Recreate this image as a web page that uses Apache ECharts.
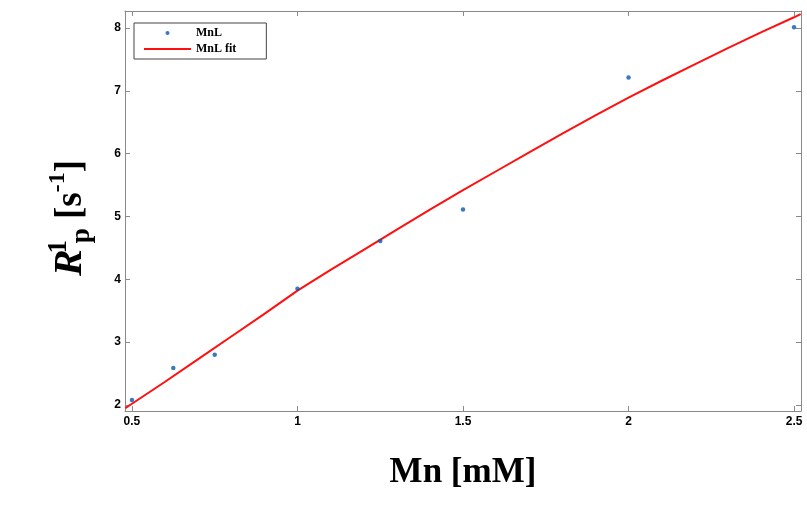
<!DOCTYPE html>
<html style="height: 100%">
<head>
    <meta charset="utf-8">
    <title>MnL relaxivity</title>
    <script src="https://cdn.jsdelivr.net/npm/echarts@6/dist/echarts.min.js"></script>
    <style>
        body { margin: 0; height: 100%; background: #fff; }
        #chart { width: 807px; height: 511px; }
    </style>
</head>
<body>
<div id="chart"></div>
<script>
    // measured points
    const mnConc = [0.5, 0.625, 0.75, 1.0, 1.25, 1.5, 2.0, 2.5];
    const r1Values = [2.08, 2.59, 2.80, 3.85, 4.61, 5.11, 7.21, 8.01];

    // fit curve
    const fitX = [0.48, 0.5, 0.6, 0.7, 0.8, 0.9, 1.0, 1.1, 1.2, 1.3, 1.4, 1.5,
                  1.6, 1.7, 1.8, 1.9, 2.0, 2.1, 2.2, 2.3, 2.4, 2.5, 2.52];
    const fitY = [1.95, 2.02, 2.37, 2.73, 3.09, 3.45, 3.82, 4.15, 4.47, 4.79, 5.11, 5.42,
                  5.72, 6.02, 6.32, 6.61, 6.89, 7.16, 7.42, 7.68, 7.93, 8.17, 8.22];

    const xTicks = [0.5, 1, 1.5, 2, 2.5];
    const yTicks = [2, 3, 4, 5, 6, 7, 8];

    const frameColor = '#8a8a8a';
    const tickFont = { color: '#000', fontFamily: 'Liberation Sans', fontWeight: 'bold', fontSize: 12 };

    const frameAxis = (extra) => Object.assign({
        type: 'value',
        axisLine: { show: true, lineStyle: { color: frameColor, width: 1 } },
        axisTick: { show: true, inside: true, length: 5, lineStyle: { color: frameColor } },
        splitLine: { show: false }
    }, extra);

    const serifBold = { fontFamily: 'Liberation Serif', fontWeight: 'bold', lineHeight: 50 };

    const chart = echarts.init(document.getElementById('chart'));
    chart.setOption({
        animation: false,
        backgroundColor: '#fff',
        grid: { left: 125, top: 11, right: 6, bottom: 100 },
        legend: {
            orient: 'vertical',
            left: 134,
            top: 23,
            padding: [3, 30, 3, 9],
            itemGap: 2,
            itemWidth: 47,
            itemHeight: 4,
            borderColor: '#444',
            borderWidth: 1,
            textStyle: { fontFamily: 'Liberation Serif', fontWeight: 'bold', fontSize: 12, lineHeight: 14, color: '#000' },
            data: [
                'MnL',
                { name: 'MnL fit', itemStyle: { opacity: 0 } }
            ]
        },
        xAxis: [
            frameAxis({
                position: 'bottom',
                min: 0.479, max: 2.521,
                axisTick: { show: true, inside: true, length: 5, lineStyle: { color: frameColor }, customValues: xTicks },
                axisLabel: Object.assign({ margin: 5, customValues: xTicks, formatter: v => String(v) }, tickFont),
                name: 'Mn [mM]',
                nameLocation: 'middle',
                nameGap: 44,
                nameTextStyle: { fontFamily: 'Liberation Serif', fontWeight: 'bold', fontSize: 35, color: '#000' }
            }),
            frameAxis({
                position: 'top',
                min: 0.479, max: 2.521,
                axisTick: { show: true, inside: true, length: 5, lineStyle: { color: frameColor }, customValues: xTicks },
                axisLabel: { show: false }
            })
        ],
        yAxis: [
            frameAxis({
                position: 'left',
                min: 1.905, max: 8.27,
                axisTick: { show: true, inside: true, length: 5, lineStyle: { color: frameColor }, customValues: yTicks },
                axisLabel: Object.assign({ margin: 4, customValues: yTicks }, tickFont),
                name: '{r|R}{sup|1}{sub|p}{n| [s}{sup2|-1}{n|]}',
                nameLocation: 'middle',
                nameRotate: 90,
                nameGap: 29,
                nameTextStyle: {
                    fontFamily: 'Liberation Serif', fontWeight: 'bold', color: '#000',
                    padding: [0, 14, 0, 0],
                    rich: {
                        r: Object.assign({ fontStyle: 'italic', fontSize: 40, verticalAlign: 'middle', padding: [0, 2, 0, 0] }, serifBold),
                        sup: Object.assign({ fontSize: 27, width: 1, verticalAlign: 'top' }, serifBold),
                        sub: Object.assign({ fontSize: 27, verticalAlign: 'bottom', padding: [0, 0, 0, 3] }, serifBold),
                        n: Object.assign({ fontSize: 37, verticalAlign: 'middle' }, serifBold),
                        sup2: Object.assign({ fontSize: 24, verticalAlign: 'top' }, serifBold)
                    }
                }
            }),
            frameAxis({
                position: 'right',
                min: 1.905, max: 8.27,
                axisTick: { show: true, inside: true, length: 5, lineStyle: { color: frameColor }, customValues: yTicks },
                axisLabel: { show: false }
            })
        ],
        series: [
            {
                name: 'MnL',
                type: 'scatter',
                symbol: 'circle',
                symbolSize: 4.5,
                itemStyle: { color: '#0a56ad' },
                data: mnConc.map((x, i) => [x, r1Values[i]]),
                z: 3
            },
            {
                name: 'MnL fit',
                type: 'line',
                symbol: 'none',
                lineStyle: { color: '#ff1010', width: 2 },
                itemStyle: { color: '#ff1010' },
                data: fitX.map((x, i) => [x, fitY[i]]),
                z: 2
            }
        ]
    });
</script>
</body>
</html>
